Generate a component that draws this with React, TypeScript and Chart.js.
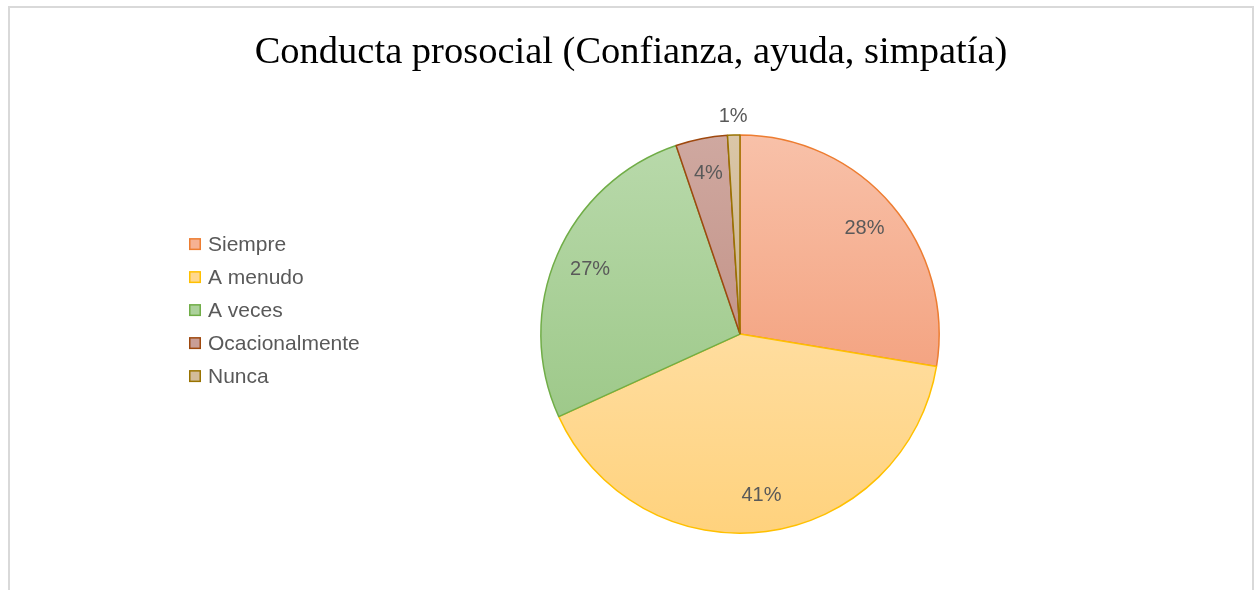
import React, { useEffect, useRef } from 'react';
import { Chart, registerables, layouts } from 'chart.js';

Chart.register(...registerables);

const titleText = 'Conducta prosocial (Confianza, ayuda, simpatía)';
const categories = ['Siempre', 'A menudo', 'A veces', 'Ocacionalmente', 'Nunca'];
const values = [27.6, 40.6, 26.6, 4.2, 1.0];
const borderColors = ['#ed7d31', '#ffc000', '#70ad47', '#9e480e', '#997300'];
const topColors = ['#f8c1a9', '#ffdd9f', '#b8d9aa', '#cfa8a0', '#dac6a8'];
const bottomColors = ['#f4a482', '#ffd27d', '#9ec98a', '#c4958a', '#ccb38b'];
const legendColors = ['#f6b193', '#ffd88e', '#acd19b', '#c99e96', '#d3bc9a'];

const BORDER_W = 1.5;
const SIDE_PAD = 20;
const LEGEND_W = 218;
const LEGEND_X = 159;
const LEGEND_ROW = 33;
const LEGEND_SHIFT = -24;

function sliceGradient(ctx: any) {
  const i = ctx.dataIndex;
  const chart = ctx.chart;
  const area = chart.chartArea;
  if (!area || i === undefined) return legendColors[i ?? 0];
  const total = values.reduce((a, b) => a + b, 0);
  let cum = 0;
  for (let k = 0; k < i; k++) cum += values[k];
  const a0 = -Math.PI / 2 + (cum / total) * Math.PI * 2;
  const a1 = a0 + (values[i] / total) * Math.PI * 2;
  const cy = (area.top + area.bottom) / 2;
  const R = (Math.min(area.right - area.left, area.bottom - area.top) - BORDER_W) / 2;
  let minY = cy, maxY = cy;
  for (let s = 0; s <= 60; s++) {
    const a = a0 + ((a1 - a0) * s) / 60;
    const y = cy + R * Math.sin(a);
    if (y < minY) minY = y;
    if (y > maxY) maxY = y;
  }
  if (maxY - minY < 1) maxY = minY + 1;
  const g = chart.ctx.createLinearGradient(0, minY, 0, maxY);
  g.addColorStop(0, topColors[i]);
  g.addColorStop(1, bottomColors[i]);
  return g;
}

const labelPlugin = {
  id: 'sliceLabels',
  afterDatasetsDraw(chart: any) {
    const ctx = chart.ctx;
    const meta = chart.getDatasetMeta(0);
    const total = values.reduce((a, b) => a + b, 0);
    ctx.save();
    ctx.font = '20px "Liberation Sans", Arial, sans-serif';
    ctx.fillStyle = '#595959';
    ctx.textAlign = 'center';
    ctx.textBaseline = 'middle';
    meta.data.forEach((arc: any, i: number) => {
      const { x, y, startAngle, endAngle, outerRadius } = arc.getProps(
        ['x', 'y', 'startAngle', 'endAngle', 'outerRadius'],
        true
      );
      const mid = (startAngle + endAngle) / 2;
      const span = endAngle - startAngle;
      const r = span < 0.1 ? outerRadius + 19 : outerRadius * 0.82;
      ctx.fillText(
        Math.round((values[i] / total) * 100) + '%',
        x + r * Math.cos(mid),
        y + r * Math.sin(mid)
      );
    });
    ctx.restore();
  },
};

const sideLegendPlugin = {
  id: 'sideLegend',
  beforeInit(chart: any) {
    const box: any = {
      position: 'left',
      weight: 100,
      fullSize: false,
      options: { stackWeight: 1 },
      left: 0,
      top: 0,
      right: 0,
      bottom: 0,
      width: 0,
      height: 0,
      isHorizontal() {
        return false;
      },
      update(maxWidth: number, maxHeight: number) {
        box.width = LEGEND_W;
        box.height = maxHeight;
      },
      getPadding() {
        return { left: 0, top: 0, right: 0, bottom: 0 };
      },
      draw() {
        const ctx = chart.ctx;
        const area = chart.chartArea;
        const cy = (area.top + area.bottom) / 2 + LEGEND_SHIFT;
        const x0 = box.left + LEGEND_X;
        ctx.save();
        ctx.font = '21px "Liberation Sans", Arial, sans-serif';
        ctx.textAlign = 'left';
        ctx.textBaseline = 'middle';
        categories.forEach((c, i) => {
          const y = cy + (i - (categories.length - 1) / 2) * LEGEND_ROW;
          ctx.fillStyle = legendColors[i];
          ctx.strokeStyle = borderColors[i];
          ctx.lineWidth = 1.5;
          ctx.fillRect(x0 + 0.75, y - 5.25, 10.5, 10.5);
          ctx.strokeRect(x0 + 0.75, y - 5.25, 10.5, 10.5);
          ctx.fillStyle = '#595959';
          ctx.fillText(c, x0 + 19, y + 1);
        });
        ctx.restore();
      },
    };
    layouts.addBox(chart, box);
  },
};

export default function App() {
  const canvasRef = useRef<HTMLCanvasElement | null>(null);

  useEffect(() => {
    if (!canvasRef.current) return;
    const chart = new Chart(canvasRef.current, {
      type: 'pie',
      data: {
        labels: categories,
        datasets: [
          {
            data: values,
            backgroundColor: sliceGradient as any,
            borderColor: borderColors,
            borderWidth: BORDER_W,
          },
        ],
      },
      options: {
        responsive: false,
        animation: false,
        layout: { padding: { left: SIDE_PAD, right: SIDE_PAD, top: 0, bottom: 56 } },
        plugins: {
          title: {
            display: true,
            text: titleText,
            color: '#000000',
            font: { family: '"Liberation Serif", "Times New Roman", serif', size: 38.5, weight: 'normal' },
            padding: { top: 22, bottom: 58 },
          },
          legend: { display: false },
          tooltip: { enabled: false },
        },
      } as any,
      plugins: [labelPlugin, sideLegendPlugin],
    });
    return () => chart.destroy();
  }, []);

  return (
    <div
      style={{
        position: 'fixed',
        left: 8,
        top: 6,
        width: 1246,
        height: 620,
        border: '2px solid #d9d9d9',
        boxSizing: 'border-box',
        background: '#ffffff',
      }}
    >
      <canvas ref={canvasRef} width={1242} height={582} style={{ display: 'block', width: 1242, height: 582 }} />
    </div>
  );
}
